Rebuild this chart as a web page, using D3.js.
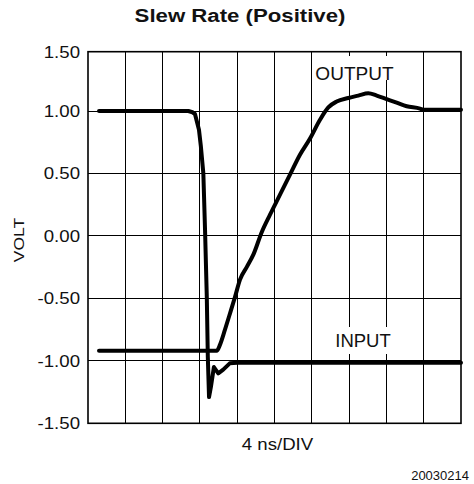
<!DOCTYPE html>
<html><head><meta charset="utf-8">
<script src="https://cdn.jsdelivr.net/npm/d3@7"></script>
<style>body{margin:0;background:#fff}svg{display:block}</style>
</head><body><svg id="c" width="474" height="484"></svg>
<script>
// ---- data ----
const yTicks = [1.5, 1.0, 0.5, 0.0, -0.5, -1.0, -1.5];
const yTickLabels = ["1.50", "1.00", "0.50", "0.00", "-0.50", "-1.00", "-1.50"];
const xDivisions = [0, 4, 8, 12, 16, 20, 24, 28, 32, 36, 40]; // ns, 4 ns/DIV
const inputTime = [1.18, 10.76, 11.2, 11.47, 11.9, 12.1, 12.37, 12.55, 12.74, 12.85, 12.98, 13.2, 13.5, 13.97, 14.5, 15.2, 16.0, 40];
const inputVolt = [1.0, 1.0, 0.99, 0.976, 0.85, 0.72, 0.5, 0.05, -0.49, -0.97, -1.29, -1.2, -1.05, -1.10, -1.07, -1.02, -1.015, -1.015];
const outputTime = [1.18, 13.8, 14.16, 14.69, 15.23, 15.76, 16.3, 17.02, 17.73, 18.63, 19.52, 20.59, 21.66, 22.73, 23.81, 24.88, 25.77, 26.67, 27.91, 28.99, 30.06, 30.96, 32.03, 33.1, 34.18, 35.6, 35.96, 40];
const outputVolt = [-0.92, -0.92, -0.87, -0.75, -0.62, -0.49, -0.35, -0.25, -0.15, 0.03, 0.17, 0.33, 0.49, 0.65, 0.78, 0.93, 1.03, 1.08, 1.11, 1.13, 1.15, 1.13, 1.10, 1.07, 1.04, 1.02, 1.01, 1.01];

// ---- layout ----
const svg = d3.select("#c");
const L = 88, R = 461;
const x = d3.scaleLinear().domain([0, 40]).range([L, R]);
const y = d3.scaleLinear().domain([-1.5, 1.0, 1.5]).range([423.3, 111, 51.7]);
const FONT = "'Liberation Sans', Arial, Helvetica, sans-serif";

function txt(px, py, s, size, sx, anchor, weight, rot) {
  const g = svg.append("g").attr("transform", `translate(${px},${py})` + (rot ? ` rotate(${rot})` : "") + ` scale(${sx},1)`);
  return g.append("text").attr("x", 0).attr("y", 0).text(s)
    .attr("font-family", FONT).attr("font-size", size)
    .attr("font-weight", weight || "normal")
    .attr("text-anchor", anchor || "start").attr("fill", "#111");
}

// grid
const grid = svg.append("g").attr("stroke", "#000").attr("stroke-width", 1).attr("shape-rendering", "crispEdges");
grid.selectAll("line.v").data(xDivisions.slice(1, -1)).join("line")
  .attr("x1", d => x(d)).attr("x2", d => x(d)).attr("y1", y(1.5)).attr("y2", y(-1.5));
grid.selectAll("line.h").data(yTicks.slice(1, -1)).join("line")
  .attr("x1", L).attr("x2", R).attr("y1", d => y(d)).attr("y2", d => y(d));

// label boxes (white) interrupting grid
function labelBox(cx, cy, w, h) {
  svg.append("rect").attr("x", cx - w / 2).attr("y", cy - h / 2).attr("width", w).attr("height", h).attr("fill", "#fff");
}
labelBox(354.5, 68, 82, 24);
labelBox(363, 340.5, 60, 27);

// frame
svg.append("rect").attr("x", L).attr("y", y(1.5)).attr("width", R - L).attr("height", y(-1.5) - y(1.5))
  .attr("fill", "none").attr("stroke", "#000").attr("stroke-width", 1.6);

// traces
const line = d3.line().x(d => x(d[0])).y(d => y(d[1])).curve(d3.curveMonotoneX);
const lineIn = d3.line().x(d => x(d[0])).y(d => y(d[1])).curve(d3.curveLinear);
svg.append("path").datum(d3.zip(inputTime, inputVolt)).attr("d", lineIn)
  .attr("fill", "none").attr("stroke", "#000").attr("stroke-width", 4).attr("stroke-linejoin", "round").attr("stroke-linecap", "round");
svg.append("path").datum(d3.zip(outputTime, outputVolt)).attr("d", line)
  .attr("fill", "none").attr("stroke", "#000").attr("stroke-width", 4).attr("stroke-linejoin", "round").attr("stroke-linecap", "round");

// y tick labels
yTicks.forEach((v, i) => {
  txt(80, y(v) + 6, yTickLabels[i], 16.5, 1.13, "end");
});

// text
txt(240, 22, "Slew Rate (Positive)", 18.5, 1.2, "middle", "bold");
txt(24, 240, "VOLT", 15.5, 1.13, "middle", "normal", -90);
txt(277.5, 450, "4 ns/DIV", 16.5, 1.13, "middle");
txt(354.5, 79.5, "OUTPUT", 18.5, 1.03, "middle");
txt(363, 347, "INPUT", 18.5, 1.0, "middle");
txt(469, 480, "20030214", 13, 1.0, "end");
</script></body></html>
